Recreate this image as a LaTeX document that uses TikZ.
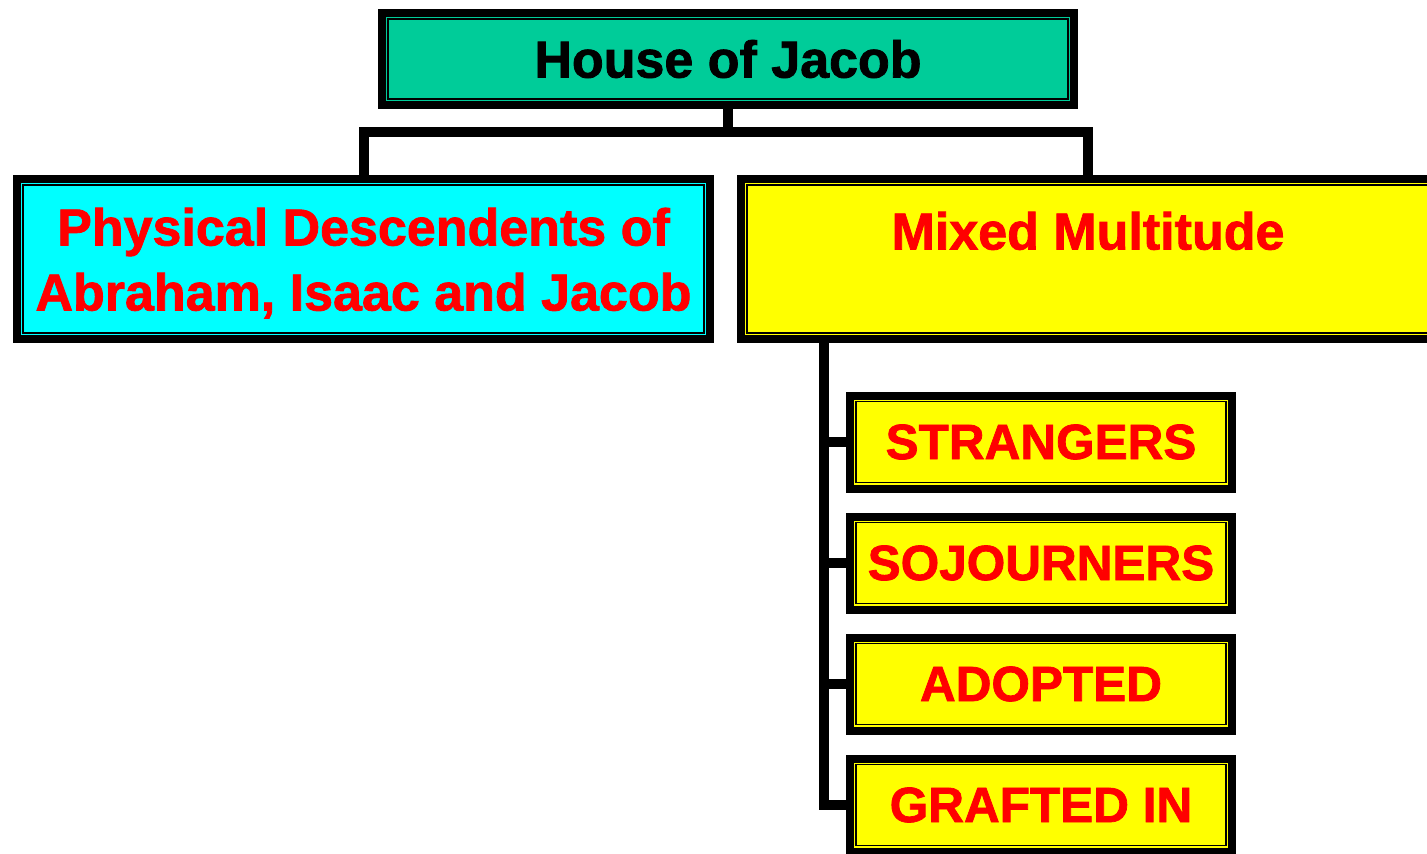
\documentclass[tikz,border=0pt]{standalone}
\usepackage{fontspec}
\setmainfont{Liberation Sans}[BoldFeatures={FakeBold=1.5}]
\usetikzlibrary{positioning}
\definecolor{jacobgreen}{RGB}{0,204,153}
\definecolor{jacobcyan}{RGB}{0,255,255}
\definecolor{jacobyellow}{RGB}{255,255,0}
\definecolor{jacobred}{RGB}{255,0,0}
\newcommand{\toppad}{\rule{0pt}{46pt}}

\tikzset{
	box/.style={draw=black, line width=8pt, text=jacobred, align=center, inner sep=0pt,
		font=\fontsize{52}{65}\selectfont\bfseries},
	bigbox/.style={box, minimum height=160pt},
	smallbox/.style={box, fill=jacobyellow, minimum width=382pt, minimum height=93pt,
		font=\fontsize{49.5}{60}\selectfont\bfseries},
	branch/.style={line width=10pt},
}

\begin{document}
\begin{tikzpicture}[x=1pt,y=1pt]
		\useasboundingbox (0,0) rectangle (1427,-854);
		\node[box, fill=jacobgreen, text=black, minimum width=692pt, minimum height=92pt] (house) at (728,-59) {House of Jacob};
		\node[bigbox, fill=jacobcyan, minimum width=693pt] (physical) at (363.5,-259) {\toppad Physical Descendents of\\Abraham, Isaac and Jacob};
		\node[bigbox, fill=jacobyellow, minimum width=694pt] (mixed) at (1088,-259) {\toppad Mixed Multitude\\\mbox{}};
		\node[smallbox] (strangers) at (1041,-442) {STRANGERS};
		\node[smallbox, below=20pt of strangers] (sojourners) {SOJOURNERS};
		\node[smallbox, below=20pt of sojourners] (adopted) {ADOPTED};
		\node[smallbox, below=20pt of adopted] (grafted) {GRAFTED IN};
		% thin inner frames
		\foreach \n in {house,physical,mixed,strangers,sojourners,adopted,grafted}
			\draw[line width=1.5pt] ([shift={(10pt,-10pt)}]\n.north west) rectangle ([shift={(-10pt,10pt)}]\n.south east);
		\coordinate (bar) at (728,-132);
		\draw[branch] (house.south) -- (bar);
		\draw[branch] (physical.north) |- (bar) -| (mixed.north);
		\coordinate (trunk) at ([xshift=87pt]mixed.south west);
		\draw[branch] (trunk) |- (grafted.west);
		\foreach \n in {strangers,sojourners,adopted} \draw[branch] (trunk |- \n.west) -- (\n.west);
	\end{tikzpicture}
\end{document}
